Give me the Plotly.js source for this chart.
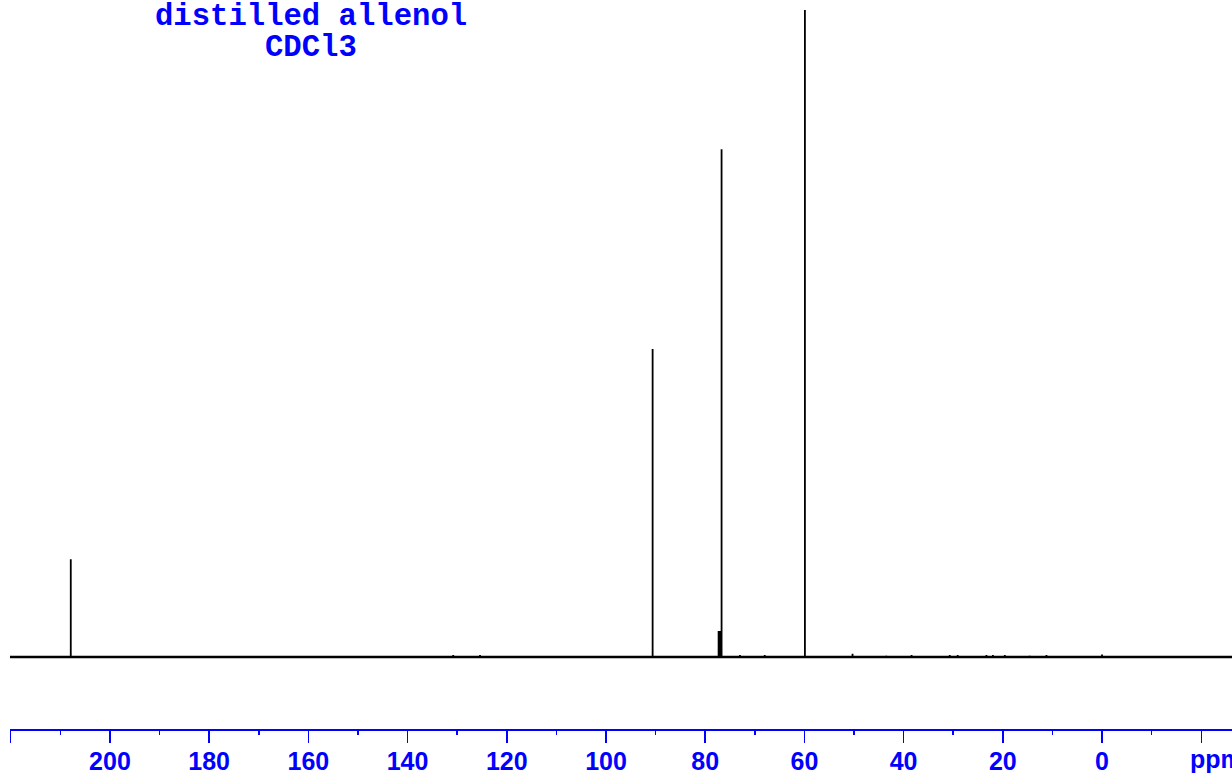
<!DOCTYPE html>
<html>
<head>
<meta charset="utf-8">
<script src="https://cdn.plot.ly/plotly-3.0.1.min.js"></script>
<style>
html,body{margin:0;padding:0;background:#fff;}
#chart{width:1232px;height:778px;}
</style>
</head>
<body>
<div id="chart"></div>
<script>
// 13C NMR peaks (ppm) and relative intensities (tallest = 100)
const peakPpm    = [207.9, 130.8, 125.4, 90.6, 77.3, 77.0, 76.7, 73.0, 68.0, 59.9, 50.3, 43.5, 38.4, 30.7, 29.1, 23.3, 22.0, 19.6, 14.6, 11.2, 0.0];
const peakHeight = [15.1,  0.3,   0.3,   47.6, 4.0,  4.0,  78.5, 0.3,  0.3,  100,  0.5,  0.2,  0.3,  0.3,  0.3,  0.3,  0.3,  0.3,  0.2,  0.3,  0.4];
const tickValues = [220, 200, 180, 160, 140, 120, 100, 80, 60, 40, 20, 0, -20];
const tickLabels = ['', '200', '180', '160', '140', '120', '100', '80', '60', '40', '20', '0', ''];
const titleLines = ['distilled allenol', 'CDCl3'];
const axisUnit = 'ppm';
const xRange = [220.15, -26.2];

// build stick spectrum from the peak list
const sx = [xRange[0]], sy = [0];
peakPpm.forEach((p, i) => { sx.push(p, p, p); sy.push(0, peakHeight[i], 0); });
sx.push(xRange[1]); sy.push(0);

const blue = '#0000ff';
const traces = [
  {x: [xRange[0], xRange[1]], y: [0, 0], mode: 'lines', line: {color: '#000', width: 2.6}, hoverinfo: 'skip', showlegend: false},
  {x: sx, y: sy, mode: 'lines', line: {color: '#000', width: 1.8}, hoverinfo: 'skip', showlegend: false}
];

const layout = {
  width: 1232, height: 778,
  margin: {l: 10, r: 0, t: 0, b: 49},
  paper_bgcolor: '#fff', plot_bgcolor: '#fff',
  showlegend: false,
  xaxis: {
    range: xRange, showgrid: false, zeroline: false,
    showline: true, linecolor: blue, linewidth: 1.5,
    ticks: 'outside', ticklen: 12, tickwidth: 1.5, tickcolor: blue,
    tickmode: 'array', tickvals: tickValues, ticktext: tickLabels,
    ticklabelstandoff: -3,
    tickfont: {family: 'Liberation Sans, Arial, sans-serif', size: 25, color: blue, weight: 'bold'},
    minor: {dtick: 10, tick0: 0, ticks: 'outside', ticklen: 4, tickwidth: 1.5, tickcolor: blue, showgrid: false}
  },
  yaxis: {range: [-11.13, 101.55], visible: false, showgrid: false, zeroline: false, fixedrange: true},
  annotations: [
    {text: titleLines[0], xref: 'paper', yref: 'paper', x: 0.2463, y: 0.9764, xanchor: 'center', yanchor: 'middle', showarrow: false,
     font: {family: 'Liberation Mono, Courier New, monospace', size: 30.6, color: blue, weight: 'bold'}},
    {text: titleLines[1], xref: 'paper', yref: 'paper', x: 0.2463, y: 0.9339, xanchor: 'center', yanchor: 'middle', showarrow: false,
     font: {family: 'Liberation Mono, Courier New, monospace', size: 30.6, color: blue, weight: 'bold'}},
    {text: axisUnit, xref: 'x', yref: 'paper', x: -17.3, y: -0.041, xanchor: 'left', yanchor: 'middle', showarrow: false,
     font: {family: 'Liberation Sans, Arial, sans-serif', size: 25, color: blue, weight: 'bold'}}
  ]
};

Plotly.newPlot('chart', traces, layout, {staticPlot: true, displayModeBar: false});
</script>
</body>
</html>
